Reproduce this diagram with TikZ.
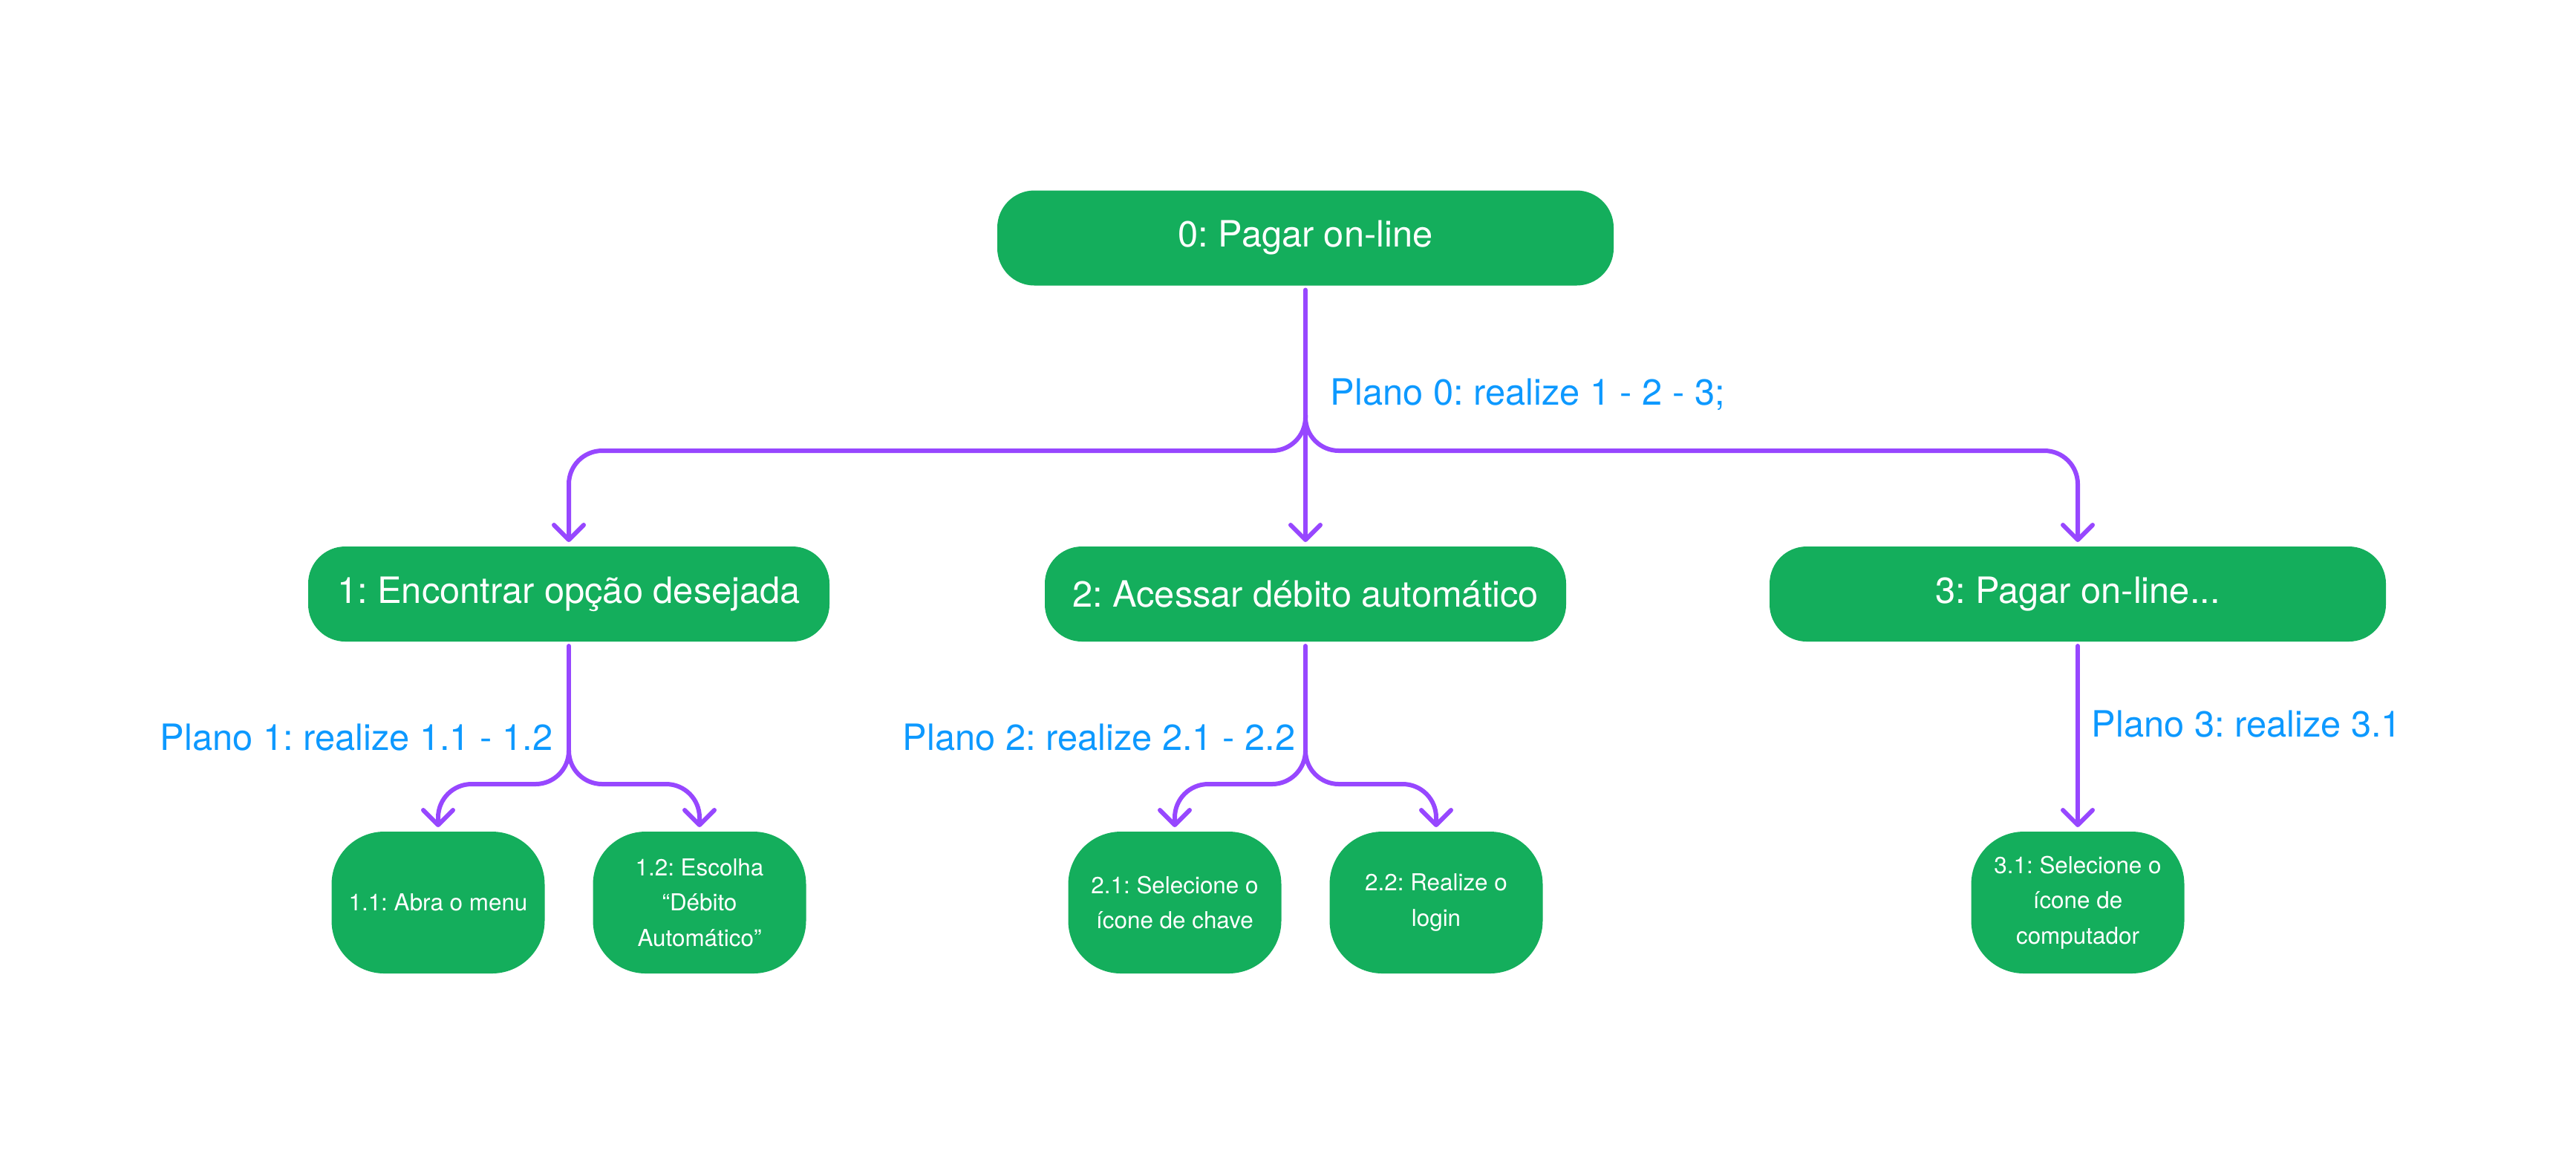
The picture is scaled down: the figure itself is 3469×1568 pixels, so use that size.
\documentclass[tikz,border=0pt]{standalone}
\usepackage{fontspec}
\setmainfont{TeX Gyre Heros}
\frenchspacing
\usetikzlibrary{arrows.meta}
\definecolor{boxgreen}{HTML}{14AE5C}
\definecolor{linkpurple}{HTML}{9747FF}
\definecolor{planblue}{HTML}{0D99FF}
\tikzset{
	task/.style={fill=boxgreen, text=white, rounded corners=12.5pt, minimum height=32pt, inner sep=0pt, outer sep=1.5pt, font=\fontsize{12.2}{14}\selectfont},
	subtask/.style={fill=boxgreen, text=white, rounded corners=17.75pt, minimum width=71.75pt, minimum height=47.75pt, inner sep=0pt, outer sep=1.5pt, align=center, font=\fontsize{7.85}{11.9}\selectfont},
	link/.style={draw=linkpurple, line width=1.5pt, line cap=round, line join=round},
	linkarrow/.style={link, -{Straight Barb[length=5pt,width=10pt,round]}},
	plan/.style={text=planblue, inner sep=0pt, font=\fontsize{12.2}{14}\selectfont},
}
\begin{document}
\begin{tikzpicture}[x=0.25pt,y=0.25pt,yscale=-1]
			\useasboundingbox (0,0) rectangle (3469,1568);
			
			%Rounded Rect
			\node[task, minimum width=207.5pt] (root) at (1758,320.5) {0: Pagar on-line};
			%Rounded Rect
			\node[task, minimum width=175.5pt] (t1) at (766,800) {1: Encontrar opção desejada};
			%Rounded Rect
			\node[task, minimum width=175.5pt] (t2) at (1758,800) {2: Acessar débito automático};
			%Rounded Rect
			\node[task, minimum width=207.5pt] (t3) at (2798,800) {3: Pagar on-line...};
			
			%Rounded Rect
			\node[subtask] (t11) at (590,1215.5) {1.1: Abra o menu};
			\node[subtask] (t12) at (942,1215.5) {1.2: Escolha\\“Débito\\Automático”};
			\node[subtask] (t21) at (1582,1215.5) {2.1: Selecione o\\ícone de chave};
			\node[subtask] (t22) at (1934,1215.5) {2.2: Realize o\\login};
			\node[subtask] (t31) at (2798,1215.5) {3.1: Selecione o\\ícone de\\computador};
			
			\coordinate (j0) at (1758,559);
			\coordinate (b0) at (1758,607);
			\coordinate (j1) at (766,1011);
			\coordinate (b1) at (766,1056);
			\coordinate (j2) at (1758,1011);
			\coordinate (b2) at (1758,1056);
			
			%Straight Lines
			\draw[linkarrow] (root.south) -- (t2.north);
			\draw[linkarrow, rounded corners=11.25pt] (j0) -- (b0) -| (t1.north);
			\draw[linkarrow, rounded corners=11.25pt] (j0) -- (b0) -| (t3.north);
			%Straight Lines
			\draw[link] (t1.south) -- (j1);
			\draw[linkarrow, rounded corners=11.25pt] (j1) -- (b1) -| (t11.north);
			\draw[linkarrow, rounded corners=11.25pt] (j1) -- (b1) -| (t12.north);
			%Straight Lines
			\draw[link] (t2.south) -- (j2);
			\draw[linkarrow, rounded corners=11.25pt] (j2) -- (b2) -| (t21.north);
			\draw[linkarrow, rounded corners=11.25pt] (j2) -- (b2) -| (t22.north);
			%Straight Lines
			\draw[linkarrow] (t3.south) -- (t31.north);
			
			% Text Node
			\node[plan, anchor=base west] (p0) at (1791,545) {Plano 0: realize 1 - 2 - 3;};
			% Text Node
			\node[plan, anchor=base east] (p1) at (745,1010) {Plano 1: realize 1.1 - 1.2};
			% Text Node
			\node[plan, anchor=base east] (p2) at (1745,1010) {Plano 2: realize 2.1 - 2.2};
			% Text Node
			\node[plan, anchor=base west] (p3) at (2816,992) {Plano 3: realize 3.1};
			
		\end{tikzpicture}
\end{document}
